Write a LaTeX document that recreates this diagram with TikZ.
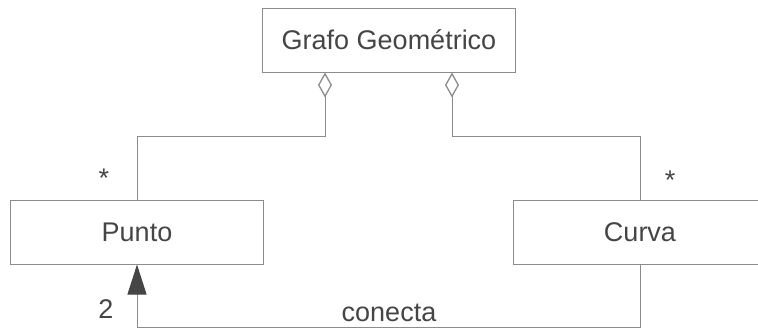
\documentclass[tikz,border=0pt]{standalone}
\usepackage{fontspec}
\setmainfont{Liberation Sans}
\usetikzlibrary{arrows.meta,calc}
\definecolor{linegray}{HTML}{8C8C8C}
\definecolor{textgray}{HTML}{454545}
\tikzset{
  clase/.style={draw=linegray,line width=1pt,fill=white,minimum width=253pt,minimum height=64pt,inner sep=0pt,text=textgray},
  enlace/.style={draw=linegray,line width=1pt},
  agrega/.style={enlace,{Diamond[open,length=25pt,width=14pt,line width=1.3pt]}-},
  etiq/.style={text=textgray,inner sep=0pt}
}
\begin{document}
\begin{tikzpicture}[x=1pt,y=-1pt,font=\fontsize{27}{32}\selectfont]
	\path[use as bounding box,clip] (0,0) rectangle (758,330);
	\node[clase] (grafo) at (389,40) {Grafo Geométrico};
	\node[clase] (punto) at (137,232) {Punto};
	\node[clase] (curva) at (640,232) {Curva};
	\coordinate (dl) at ($(grafo.south)+(-64,0)$);
	\coordinate (dr) at ($(grafo.south)+(63,0)$);
	\coordinate (bajo) at (0,327);
	\draw[agrega] (dl) -- ++(0,64) -| (punto.north);
	\draw[agrega] (dr) -- ++(0,64) -| (curva.north);
	\draw[enlace,-{Triangle[length=30pt,width=19pt,fill=textgray,color=textgray]}] (curva.south) -- (curva.south |- bajo) -| (punto.south);
	\node[etiq] at (104,178) {*};
	\node[etiq] at (670,180) {*};
	\node[etiq] at (106,309) {2};
	\node[etiq,anchor=base] at (389,321) {conecta};
\end{tikzpicture}
\end{document}
